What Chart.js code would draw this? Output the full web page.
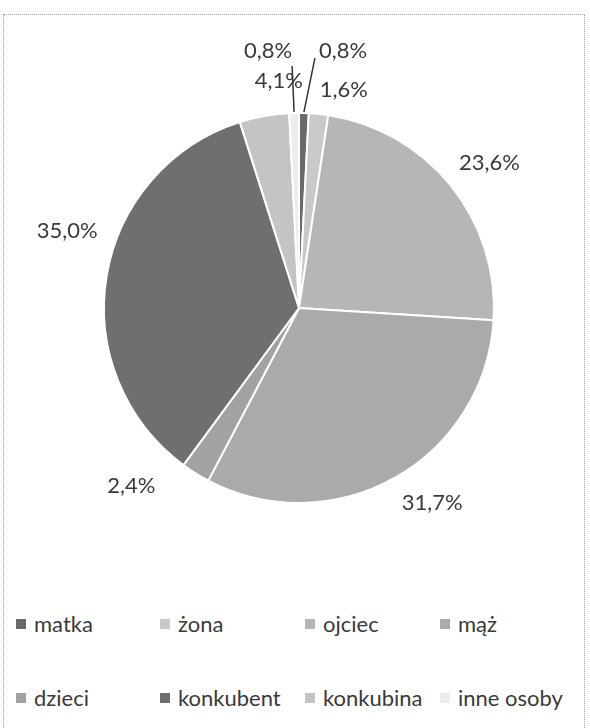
<!DOCTYPE html>
<html>
<head>
<meta charset="utf-8">
<script src="https://cdn.jsdelivr.net/npm/chart.js@4.4.0/dist/chart.umd.min.js"></script>
<style>
  body { margin: 0; background: #fff; width: 590px; height: 728px; overflow: hidden; position: relative; font-family: Lato, "Noto Sans", sans-serif; color: #3a3a3a; }
  #frame { position: absolute; left: 3px; top: 14px; width: 580px; height: 800px; border: 1px dotted #a8a8a8; }
  #chartBox { position: absolute; left: 0; top: 0; width: 590px; height: 560px; }
  .legItem { position: absolute; height: 30px; line-height: 30px; font-size: 22px; display: flex; align-items: center; white-space: nowrap; }
  .legItem span.box { width: 10px; height: 10px; margin-right: 8px; display: inline-block; }
</style>
</head>
<body>
<div id="frame"></div>
<div id="chartBox"><canvas id="pieChart"></canvas></div>
<div id="legend"></div>
<script>
// Categories and shares (%)
const categories = ["matka", "żona", "ojciec", "mąż", "dzieci", "konkubent", "konkubina", "inne osoby"];
const shares = [0.8, 1.6, 23.6, 31.7, 2.4, 35.0, 4.1, 0.8];
const sliceColors = ["#6a6a6a", "#c9c9c9", "#b6b6b6", "#aaaaaa", "#a2a2a2", "#6f6f6f", "#c4c4c4", "#ececec"];

// label nudges (px) from default outside position, and which get a leader line
const labelNudge = [[38, -20], [21, 18], [6, 4], [17, -12], [-42, -23], [2, -39], [22, 6], [-25, -20]];
const leaderLine = [true, false, false, false, false, false, false, true];

// legend layout
const legendCols = [16, 160, 305, 440];
const legendRows = [624, 698];

const labelFont = "22px Lato, 'Noto Sans', sans-serif";

// Draw percent labels outside the slices
const outsideLabels = {
  id: "outsideLabels",
  afterDatasetsDraw(chart) {
    const ctx = chart.ctx;
    const meta = chart.getDatasetMeta(0);
    ctx.save();
    ctx.font = labelFont;
    ctx.fillStyle = "#3a3a3a";
    ctx.textAlign = "center";
    ctx.textBaseline = "middle";
    meta.data.forEach((arc, i) => {
      const p = arc.getProps(["x", "y", "startAngle", "endAngle", "outerRadius"], true);
      const mid = (p.startAngle + p.endAngle) / 2;
      const dist = p.outerRadius + 42;
      const lx = p.x + Math.cos(mid) * dist + labelNudge[i][0];
      const ly = p.y + Math.sin(mid) * dist + labelNudge[i][1];
      const txt = shares[i].toFixed(1).replace(".", ",") + "%";
      ctx.fillText(txt, lx, ly);

      if (leaderLine[i]) {
        const w = ctx.measureText(txt).width;
        const ax = p.x + Math.cos(mid) * (p.outerRadius + 1);
        const ay = p.y + Math.sin(mid) * (p.outerRadius + 1);
        let ex, ey;
        if (lx > ax) { ex = lx - w / 2 - 4; ey = ly + 7; }
        else { ex = lx + w / 2; ey = ly + 15; }
        ctx.strokeStyle = "#333";
        ctx.lineWidth = 1.5;
        ctx.beginPath();
        ctx.moveTo(ax, ay);
        ctx.lineTo(ex, ey);
        ctx.stroke();
      }
    });
    ctx.restore();
  }
};

new Chart(document.getElementById("pieChart"), {
  type: "pie",
  data: {
    labels: categories,
    datasets: [{
      data: shares,
      backgroundColor: sliceColors,
      borderColor: "#ffffff",
      borderWidth: 2
    }]
  },
  options: {
    responsive: true,
    maintainAspectRatio: false,
    animation: false,
    layout: { padding: { left: 103, right: 95, top: 112, bottom: 56 } },
    plugins: {
      legend: { display: false },
      tooltip: { enabled: false }
    }
  },
  plugins: [outsideLabels]
});

// Legend in two rows of four
const legend = document.getElementById("legend");
categories.forEach((name, i) => {
  const item = document.createElement("div");
  item.className = "legItem";
  item.style.left = legendCols[i % 4] + "px";
  item.style.top = (legendRows[Math.floor(i / 4)] - 15) + "px";
  const box = document.createElement("span");
  box.className = "box";
  box.style.background = sliceColors[i];
  item.appendChild(box);
  item.appendChild(document.createTextNode(name));
  legend.appendChild(item);
});
</script>
</body>
</html>
